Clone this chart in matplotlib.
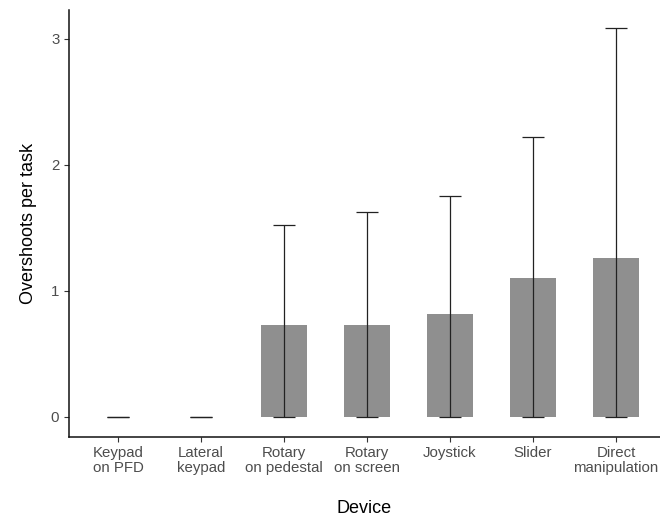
import matplotlib.pyplot as plt
import numpy as np

plt.rcParams['font.family'] = ['Liberation Sans', 'DejaVu Sans']

devices = ["Keypad\non PFD", "Lateral\nkeypad", "Rotary\non pedestal", "Rotary\non screen",
           "Joystick", "Slider", "Direct\nmanipulation"]
mean_overshoots = [0.0, 0.0, 0.73, 0.73, 0.82, 1.10, 1.26]
upper_bound = [0.0, 0.0, 1.52, 1.63, 1.75, 2.22, 3.09]
lower_bound = [0.0, 0.0, 0.0, 0.0, 0.0, 0.0, 0.0]

fig = plt.figure(figsize=(6.6, 5.21), dpi=100)
ax = fig.add_axes([0.1045, 0.162, 0.8955, 0.819])

x = np.arange(len(devices))
means = np.array(mean_overshoots)
ax.bar(x, means, width=0.55, color="#8f8f8f", linewidth=0, zorder=2)
ax.errorbar(x, means,
            yerr=[means - np.array(lower_bound), np.array(upper_bound) - means],
            fmt="none", ecolor="#222222", elinewidth=0.9, capsize=8, capthick=0.9, zorder=3)

ax.set_xlim(-0.59, 6.53)
ax.set_ylim(-0.156, 3.23)
ax.set_xticks(x)
ax.set_xticklabels(devices, fontsize=10.8, color="#4d4d4d", linespacing=1.05)
ax.set_yticks([0, 1, 2, 3])
ax.set_yticklabels(["0", "1", "2", "3"], fontsize=10.8, color="#4d4d4d")
ax.tick_params(length=3.5, width=0.8, color="#333333")

for side in ("top", "right"):
    ax.spines[side].set_visible(False)
for side in ("left", "bottom"):
    ax.spines[side].set_linewidth(1.1)
    ax.spines[side].set_color("#111111")

ax.set_xlabel("Device", fontsize=13, labelpad=18)
ax.set_ylabel("Overshoots per task", fontsize=13, labelpad=10)

fig.savefig("out.png", dpi=100)
